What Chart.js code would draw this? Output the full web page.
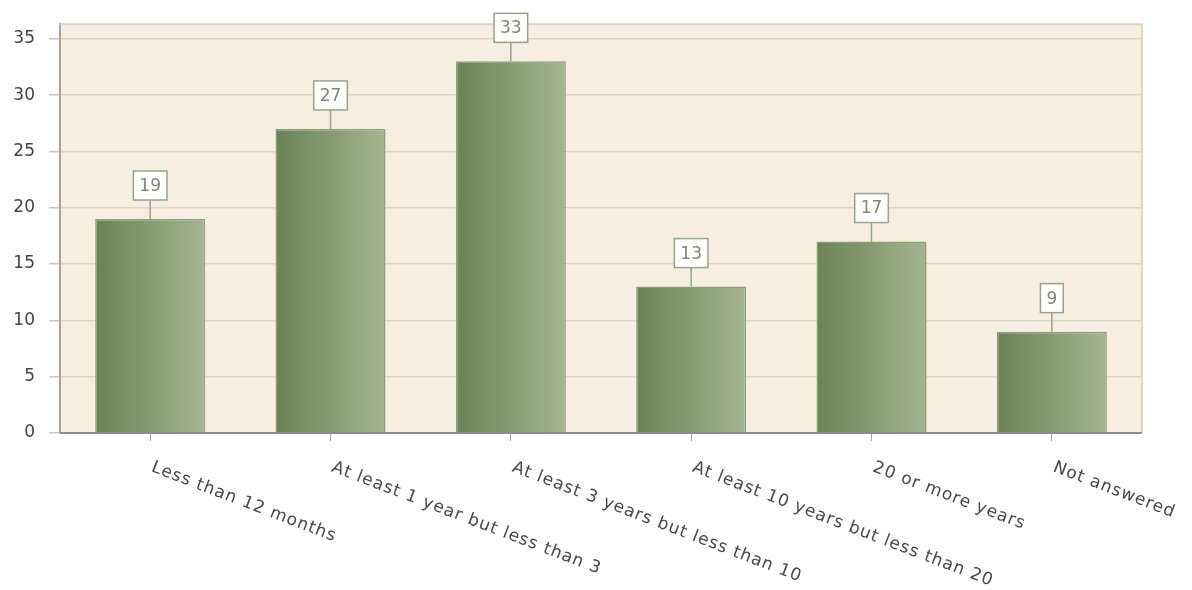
<!DOCTYPE html>
<html>
<head>
<meta charset="utf-8">
<script src="https://cdn.jsdelivr.net/npm/chart.js@4.4.0/dist/chart.umd.min.js"></script>
<style>
  body { margin: 0; background: #fff; }
  #wrap { width: 1192px; height: 590px; }
</style>
</head>
<body>
<div id="wrap"><canvas id="chart" width="1192" height="590"></canvas></div>
<script>
const categories = [
    'Less than 12 months',
    'At least 1 year but less than 3',
    'At least 3 years but less than 10',
    'At least 10 years but less than 20',
    '20 or more years',
    'Not answered'
];
const counts = [19, 27, 33, 13, 17, 9];
const yTicks = [0, 5, 10, 15, 20, 25, 30, 35];
const yMax = 36.3;

const FONT = '"DejaVu Sans", Verdana, sans-serif';

function barGradient(context) {
    const chart = context.chart;
    if (!chart.chartArea || context.dataIndex === undefined) return '#8a9d74';
    const xScale = chart.scales.x;
    const cx = xScale.getPixelForValue(context.dataIndex);
    const half = xScale.width / categories.length * 0.61 / 2;
    const g = chart.ctx.createLinearGradient(cx - half, 0, cx + half, 0);
    g.addColorStop(0, '#6a8255');
    g.addColorStop(0.5, '#879b72');
    g.addColorStop(1, '#a5b590');
    return g;
}

const plotFrame = {
    id: 'plotFrame',
    beforeDraw(chart) {
        const { ctx, chartArea: a } = chart;
        ctx.save();
        ctx.fillStyle = '#f6efe1';
        ctx.fillRect(a.left, a.top, a.width, a.height);
        ctx.restore();
    },
    afterDatasetsDraw(chart) {
        const { ctx, chartArea: a } = chart;
        ctx.save();
        ctx.strokeStyle = '#dcd5c6';
        ctx.lineWidth = 2;
        ctx.beginPath();
        ctx.moveTo(a.left, a.top);
        ctx.lineTo(a.right, a.top);
        ctx.lineTo(a.right, a.bottom);
        ctx.stroke();
        ctx.strokeStyle = '#707070';
        ctx.lineWidth = 1.5;
        ctx.beginPath();
        ctx.moveTo(a.left, a.bottom);
        ctx.lineTo(a.right, a.bottom);
        ctx.stroke();
        ctx.restore();
    }
};

const valueBoxes = {
    id: 'valueBoxes',
    afterDatasetsDraw(chart) {
        const ctx = chart.ctx;
        const meta = chart.getDatasetMeta(0);
        ctx.save();
        ctx.font = '17px ' + FONT;
        ctx.textAlign = 'center';
        ctx.textBaseline = 'middle';
        meta.data.forEach((bar, i) => {
            const text = String(counts[i]);
            const w = ctx.measureText(text).width + 12;
            const h = 29;
            const bottom = bar.y - 19;
            ctx.strokeStyle = '#95a585';
            ctx.lineWidth = 1.5;
            ctx.beginPath();
            ctx.moveTo(bar.x, bar.y);
            ctx.lineTo(bar.x, bottom);
            ctx.stroke();
            ctx.fillStyle = '#ffffff';
            ctx.fillRect(bar.x - w / 2, bottom - h, w, h);
            ctx.strokeRect(bar.x - w / 2, bottom - h, w, h);
            ctx.fillStyle = '#7b8b6b';
            ctx.fillText(text, bar.x, bottom - h / 2 + 1);
        });
        ctx.restore();
    }
};

const slantedLabels = {
    id: 'slantedLabels',
    afterDraw(chart) {
        const ctx = chart.ctx;
        const xScale = chart.scales.x;
        const top = chart.chartArea.bottom + 26;
        ctx.save();
        ctx.font = '17px ' + FONT;
        ctx.fillStyle = '#484848';
        ctx.textAlign = 'left';
        ctx.textBaseline = 'top';
        ctx.letterSpacing = '1px';
        xScale.ticks.forEach((tick, i) => {
            ctx.save();
            ctx.translate(xScale.getPixelForTick(i) + 5, top);
            ctx.rotate(21 * Math.PI / 180);
            ctx.fillText(xScale.getLabelForValue(i), 0, 0);
            ctx.restore();
        });
        ctx.restore();
    }
};

new Chart(document.getElementById('chart'), {
    type: 'bar',
    data: {
        labels: categories,
        datasets: [{
            data: counts,
            backgroundColor: barGradient,
            borderColor: '#8d9d7b',
            borderWidth: 1.5,
            barPercentage: 0.61,
            categoryPercentage: 1
        }]
    },
    options: {
        responsive: false,
        animation: false,
        layout: { padding: { top: 23, right: 50, left: 0, bottom: 0 } },
        plugins: {
            legend: { display: false },
            tooltip: { enabled: false }
        },
        scales: {
            x: {
                grid: {
                    drawOnChartArea: false,
                    drawTicks: true,
                    tickLength: 8,
                    tickColor: '#a8a8a8',
                    offset: false
                },
                border: { display: false },
                ticks: { display: false },
                afterFit(scale) { scale.height = 157; }
            },
            y: {
                min: 0,
                max: yMax,
                afterBuildTicks(scale) {
                    scale.ticks = yTicks.map(v => ({ value: v }));
                },
                grid: {
                    color: '#ddd6c7',
                    lineWidth: 1.5,
                    tickLength: 11,
                    tickColor: '#cfc8ba'
                },
                border: { color: '#a3a3a3', width: 2 },
                ticks: {
                    padding: 14,
                    color: '#444444',
                    font: { family: FONT, size: 17 }
                },
                afterFit(scale) { scale.width = 60; }
            }
        }
    },
    plugins: [plotFrame, valueBoxes, slantedLabels]
});
</script>
</body>
</html>
